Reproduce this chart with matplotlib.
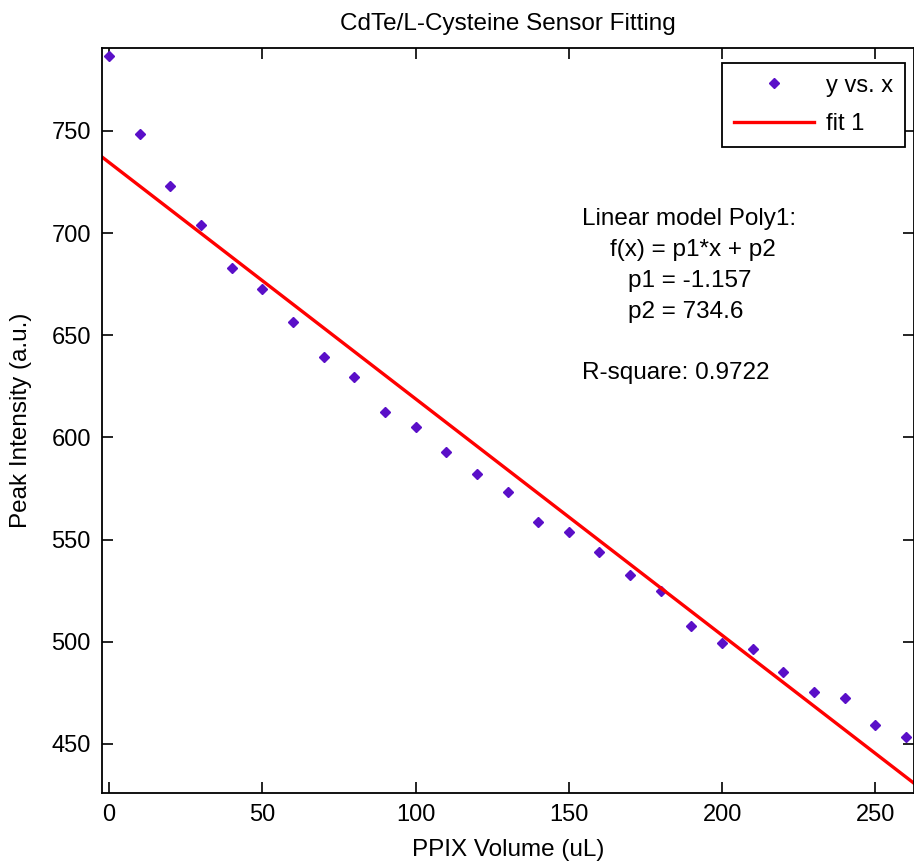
import matplotlib
matplotlib.use('Agg')
from matplotlib import pyplot as plt
import numpy as np

plt.rcParams['font.family'] = ['Liberation Sans', 'DejaVu Sans']

# PPIX volume (uL) and measured peak intensity
volume = [0, 10, 20, 30, 40, 50, 60, 70, 80, 90, 100, 110, 120, 130,
          140, 150, 160, 170, 180, 190, 200, 210, 220, 230, 240, 250, 260]
intensity = [786.7, 748.5, 723.1, 704.0, 683.0, 672.7, 656.5, 639.4, 629.6,
             612.5, 605.0, 592.9, 582.1, 573.3, 558.6, 553.7, 543.9, 532.7,
             524.8, 507.7, 499.4, 496.5, 485.2, 475.4, 472.5, 459.3, 453.4]

# fit parameters
p1 = -1.157
p2 = 734.6
r_square = 0.9722

x_ticks = [0, 50, 100, 150, 200, 250]
y_ticks = [450, 500, 550, 600, 650, 700, 750]

fig = plt.figure(figsize=(9.14, 8.67), dpi=100)
ax = fig.add_axes([102 / 914, 1 - 793 / 867, 812 / 914, 745 / 867])

xlim = (-2.3, 262.6)
ylim = (426.0, 790.6)

ax.plot(volume, intensity, linestyle='none', marker='D', markersize=5,
        color='#5a0fc8', label='y vs. x')
xf = np.array(xlim)
ax.plot(xf, p1 * xf + p2, color='#ff0000', linewidth=2.4, label='fit 1')

ax.set_xlim(xlim)
ax.set_ylim(ylim)
ax.set_xticks(x_ticks)
ax.set_yticks(y_ticks)
ax.tick_params(direction='in', length=8, width=1.2, top=True, right=True,
               labelsize=17, pad=8)
for s in ax.spines.values():
    s.set_linewidth(1.3)

ax.set_title('CdTe/L-Cysteine Sensor Fitting', fontsize=17.5, pad=13)
ax.set_xlabel('PPIX Volume (uL)', fontsize=17.5, labelpad=9)
ax.set_ylabel('Peak Intensity (a.u.)', fontsize=17.5, labelpad=14)

leg = ax.legend(loc='upper right', bbox_to_anchor=(0.989, 0.980),
                borderaxespad=0, fontsize=17, handlelength=3.4,
                handletextpad=0.5, fancybox=False, edgecolor='black',
                framealpha=1, borderpad=0.5, labelspacing=0.7)
leg.get_frame().set_linewidth(1.3)

def fx(px):
    return (px - 102) / 812

def fy(py):
    return (793 - py) / 745

lines = [
    (582, 219, 'Linear model Poly1:'),
    (610, 250, 'f(x) = p1*x + p2'),
    (628, 281, 'p1 = %.3f' % p1),
    (628, 312, 'p2 = %.1f' % p2),
    (582, 373, 'R-square: %.4f' % r_square),
]
for px, py, s in lines:
    ax.text(fx(px), fy(py), s, transform=ax.transAxes, fontsize=17.5,
            ha='left', va='center')

fig.savefig('out.png', dpi=100)
